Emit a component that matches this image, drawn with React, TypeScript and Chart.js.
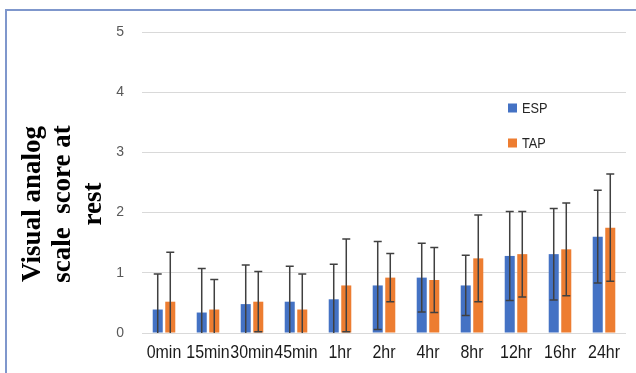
import React, { useEffect, useRef } from "react";
import { Chart, registerables } from "chart.js";

Chart.register(...registerables);

const categories = ["0min", "15min", "30min", "45min", "1hr", "2hr", "4hr", "8hr", "12hr", "16hr", "24hr"];
const espMean = [0.39, 0.34, 0.48, 0.52, 0.56, 0.79, 0.92, 0.79, 1.28, 1.31, 1.6];
const espSD = [0.59, 0.73, 0.65, 0.59, 0.58, 0.73, 0.57, 0.5, 0.74, 0.76, 0.77];
const tapMean = [0.52, 0.39, 0.52, 0.39, 0.79, 0.92, 0.88, 1.24, 1.31, 1.39, 1.75];
const tapSD = [0.82, 0.5, 0.5, 0.59, 0.77, 0.4, 0.54, 0.72, 0.71, 0.77, 0.89];
const seriesNames = ["ESP", "TAP"];
const seriesColors = ["#4472C4", "#ED7D31"];
const yTitleLines = ["Visual analog", "scale  score at", "rest"];
const yTicks = [0, 1, 2, 3, 4, 5];

const SANS = "'Liberation Sans', Arial, sans-serif";

const errorBarPlugin = {
  id: "errorBars",
  afterDatasetsDraw(chart: any) {
    const ctx = chart.ctx;
    const y = chart.scales.y;
    const sds = [espSD, tapSD];
    ctx.save();
    ctx.strokeStyle = "#404040";
    ctx.lineWidth = 1.5;
    chart.data.datasets.forEach((ds: any, i: number) => {
      const meta = chart.getDatasetMeta(i);
      meta.data.forEach((el: any, j: number) => {
        const m = ds.data[j];
        const sd = sds[i][j];
        const x = el.x;
        const top = y.getPixelForValue(m + sd);
        const lowVal = m - sd;
        const bot = y.getPixelForValue(Math.max(lowVal, 0));
        const cap = 4;
        ctx.beginPath();
        ctx.moveTo(x, top);
        ctx.lineTo(x, bot);
        ctx.moveTo(x - cap, top);
        ctx.lineTo(x + cap, top);
        if (lowVal >= 0) {
          ctx.moveTo(x - cap, bot);
          ctx.lineTo(x + cap, bot);
        }
        ctx.stroke();
      });
    });
    ctx.restore();
  },
};

const decorPlugin = {
  id: "decor",
  afterDraw(chart: any) {
    const ctx = chart.ctx;
    ctx.save();
    // y-axis title
    ctx.fillStyle = "#000000";
    ctx.font = "bold 27px 'Liberation Serif', 'Times New Roman', serif";
    ctx.textAlign = "center";
    ctx.textBaseline = "alphabetic";
    const baselines = [40, 70, 101];
    const cy = 204;
    yTitleLines.forEach((line, i) => {
      ctx.save();
      ctx.translate(baselines[i], cy);
      ctx.rotate(-Math.PI / 2);
      ctx.fillText(line, 0, 0);
      ctx.restore();
    });
    // x category labels (condensed)
    const xs = chart.scales.x;
    ctx.fillStyle = "#1a1a1a";
    ctx.font = "19px " + SANS;
    ctx.textAlign = "center";
    ctx.textBaseline = "alphabetic";
    categories.forEach((c, i) => {
      ctx.save();
      ctx.translate(xs.getPixelForValue(i), 358);
      ctx.scale(0.84, 1);
      ctx.fillText(c, 0, 0);
      ctx.restore();
    });
    // legend
    ctx.textAlign = "left";
    ctx.textBaseline = "middle";
    const ly = [108, 143];
    seriesNames.forEach((name, i) => {
      ctx.fillStyle = seriesColors[i];
      ctx.fillRect(508, ly[i] - 4.5, 9, 9);
      ctx.fillStyle = "#262626";
      ctx.save();
      ctx.translate(522, ly[i] + 0.5);
      ctx.scale(0.85, 1);
      ctx.font = "15px " + SANS;
      ctx.fillText(name, 0, 0);
      ctx.restore();
    });
    ctx.restore();
  },
};

export default function App() {
  const ref = useRef<HTMLCanvasElement>(null);
  useEffect(() => {
    if (!ref.current) return;
    const chart = new Chart(ref.current, {
      type: "bar",
      data: {
        labels: categories,
        datasets: [
          { label: seriesNames[0], data: espMean, backgroundColor: seriesColors[0], categoryPercentage: 0.57, barPercentage: 0.8 },
          { label: seriesNames[1], data: tapMean, backgroundColor: seriesColors[1], categoryPercentage: 0.57, barPercentage: 0.8 },
        ],
      },
      options: {
        responsive: false,
        animation: false,
        layout: { padding: { left: 0, right: 10, top: 32, bottom: 0 } },
        plugins: { legend: { display: false }, tooltip: { enabled: false } },
        scales: {
          x: {
            grid: { display: false, drawTicks: false },
            border: { display: false },
            ticks: { display: false },
            afterFit: (s: any) => {
              s.height = 40;
            },
          },
          y: {
            min: 0,
            max: 5,
            afterBuildTicks: (s: any) => {
              s.ticks = yTicks.map((v) => ({ value: v }));
            },
            grid: { color: "#d9d9d9", lineWidth: 1, drawTicks: false },
            border: { display: false },
            ticks: {
              padding: 18,
              color: "#595959",
              font: { family: SANS, size: 14 },
            },
            afterFit: (s: any) => {
              s.width = 142;
            },
          },
        },
      },
      plugins: [errorBarPlugin, decorPlugin],
    });
    return () => chart.destroy();
  }, []);
  return (
    <div style={{ position: "fixed", left: 0, top: 0, width: 636, height: 373, background: "#ffffff", overflow: "hidden" }}>
      <canvas ref={ref} width={636} height={373} style={{ position: "absolute", left: 0, top: 0, width: 636, height: 373 }} />
      <div style={{ position: "absolute", left: 5, top: 9, width: 631, height: 2, background: "#7f97cc" }} />
      <div style={{ position: "absolute", left: 5, top: 9, width: 2, height: 364, background: "#7f97cc" }} />
    </div>
  );
}
